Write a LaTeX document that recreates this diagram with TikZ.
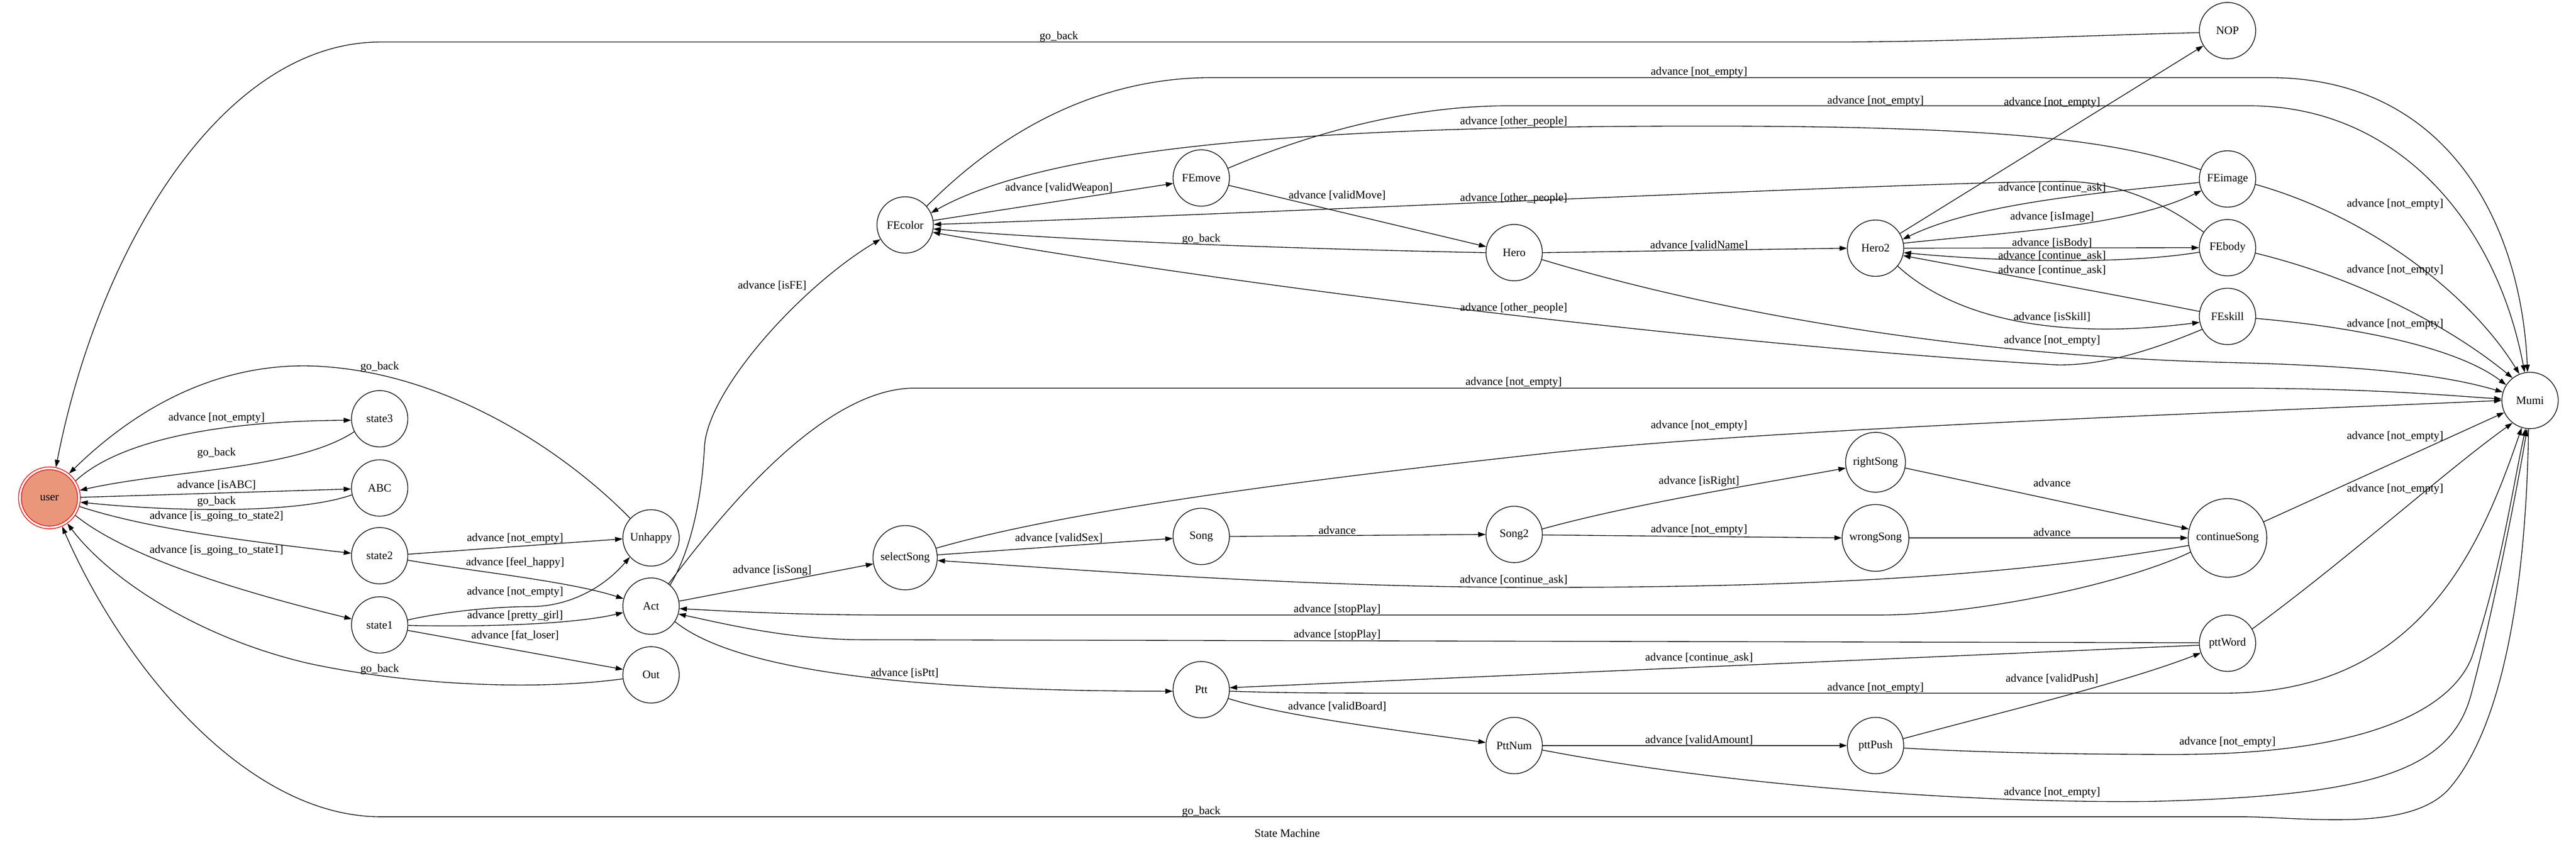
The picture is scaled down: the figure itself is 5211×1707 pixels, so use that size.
\documentclass[tikz,border=0pt]{standalone}
\usepackage{fontspec}
\setmainfont{Liberation Serif}
\usetikzlibrary{arrows.meta}
\definecolor{dsalmon}{RGB}{233,150,122}
\begin{document}
\begin{tikzpicture}[x=1pt,y=-1pt,font=\fontsize{23}{27}\selectfont,
  st/.style={circle,draw,line width=1.4pt,minimum size=114pt,inner sep=0pt},
  edge/.style={line width=1.4pt,-{Triangle[length=15pt,width=10pt]}},
  lbl/.style={inner sep=0pt}]
\useasboundingbox (0,0) rectangle (5211,1707);
% nodes
\node[circle,draw=red,line width=1.4pt,minimum size=125pt,inner sep=0pt,
  path picture={\draw[red,line width=1.4pt,fill=dsalmon] (path picture bounding box.center) circle[radius=57pt];}] (user) at (100,1007) {user};
\node[st] (state3) at (768,847) {state3};
\node[st] (ABC) at (768,987) {ABC};
\node[st] (state2) at (768,1124) {state2};
\node[st] (state1) at (768,1264) {state1};
\node[st] (Unhappy) at (1317,1088) {Unhappy};
\node[st] (Act) at (1317,1226) {Act};
\node[st] (Out) at (1317,1365) {Out};
\node[st] (FEcolor) at (1831,455) {FEcolor};
\node[st,minimum size=130pt] (selectSong) at (1831,1128) {selectSong};
\node[st] (FEmove) at (2430,360) {FEmove};
\node[st] (Song) at (2430,1085) {Song};
\node[st] (Ptt) at (2430,1395) {Ptt};
\node[st] (Hero) at (3063,511) {Hero};
\node[st] (Song2) at (3063,1081) {Song2};
\node[st] (PttNum) at (3063,1508) {PttNum};
\node[st] (Hero2) at (3794,502) {Hero2};
\node[st,minimum size=121pt] (rightSong) at (3794,935) {rightSong};
\node[st,minimum size=135pt] (wrongSong) at (3794,1088) {wrongSong};
\node[st] (pttPush) at (3794,1508) {pttPush};
\node[st] (NOP) at (4506,62) {NOP};
\node[st] (FEimage) at (4506,362) {FEimage};
\node[st] (FEbody) at (4506,501) {FEbody};
\node[st] (FEskill) at (4506,640) {FEskill};
\node[st,minimum size=159pt] (continueSong) at (4506,1088) {continueSong};
\node[st] (pttWord) at (4506,1301) {pttWord};
\node[st] (Mumi) at (5118,810) {Mumi};
% user edges
\draw[edge] (user.33) .. controls (220,910) and (380,852) .. (state3.183);
\draw[edge] (state3.207) .. controls (600,950) and (350,950) .. (user.14);
\draw[edge] (user.1) -- (ABC.182);
\draw[edge] (ABC.194) .. controls (600,1040) and (350,1035) .. (user.352);
\draw[edge] (user.344) .. controls (300,1070) and (500,1095) .. (state2.175);
\draw[edge] (user.326) .. controls (260,1130) and (500,1200) .. (state1.168);
\draw[edge] (Unhappy.137) .. controls (1150,920) and (900,745) .. (620,740) .. controls (400,738) and (240,860) .. (user.51);
\draw[edge] (Out.188) .. controls (1100,1395) and (850,1390) .. (625,1342) .. controls (400,1290) and (220,1170) .. (user.305);
\draw[edge] (Mumi.267) .. controls (5110,1200) and (5060,1480) .. (4950,1600) .. controls (4870,1680) and (4680,1655) .. (4544,1652) -- (770,1652) .. controls (500,1652) and (250,1350) .. (user.294);
\draw[edge] (NOP.184) .. controls (4200,72) and (3950,85) .. (3700,85) -- (770,85) .. controls (450,85) and (200,500) .. (user.78);
% state1/state2
\draw[edge] (state2.3) -- (Unhappy.182);
\draw[edge] (state2.351) .. controls (950,1155) and (1150,1175) .. (Act.165);
\draw[edge] (state1.10) .. controls (900,1237) and (1000,1227) .. (1072,1227) .. controls (1150,1227) and (1220,1190) .. (Unhappy.222);
\draw[edge] (state1.359) .. controls (950,1268) and (1150,1265) .. (Act.193);
\draw[edge] (state1.349) -- (Out.169);
% Act
\draw[edge] (Act.48) .. controls (1400,1110) and (1420,1000) .. (1425,905) .. controls (1430,790) and (1620,580) .. (FEcolor.210);
\draw[edge] (Act.52) .. controls (1430,1080) and (1650,785) .. (1850,785) -- (4500,785) .. controls (4800,785) and (4950,800) .. (Mumi.177);
\draw[edge] (Act.10) -- (selectSong.191);
\draw[edge] (Act.327) .. controls (1480,1350) and (1800,1398) .. (Ptt.183);
\draw[edge] (continueSong.201) .. controls (4300,1180) and (4000,1244) .. (3800,1244) -- (1800,1244) .. controls (1600,1244) and (1450,1235) .. (Act.355);
\draw[edge] (pttWord.179) -- (1750,1294) .. controls (1600,1294) and (1480,1265) .. (Act.344);
% FE group
\draw[edge] (FEcolor.9) -- (FEmove.191);
\draw[edge] (FEimage.161) .. controls (4300,290) and (4100,255) .. (3450,255) .. controls (2800,255) and (2150,280) .. (FEcolor.25);
\draw[edge] (FEmove.20) .. controls (2650,270) and (2850,214) .. (3050,214) -- (4550,214) .. controls (4850,214) and (5050,450) .. (Mumi.101);
\draw[edge] (FEcolor.41) .. controls (2050,240) and (2250,157) .. (2450,157) -- (4590,157) .. controls (4950,157) and (5100,450) .. (Mumi.95);
\draw[edge] (FEmove.345) -- (Hero.168);
\draw[edge] (Hero.180) .. controls (2700,505) and (2200,490) .. (FEcolor.352);
\draw[edge] (FEbody.147) .. controls (4380,410) and (4280,367) .. (4176,367) .. controls (3900,367) and (2600,430) .. (FEcolor.1);
\draw[edge] (FEskill.207) .. controls (4350,710) and (4250,740) .. (4160,738) .. controls (3500,700) and (2500,580) .. (FEcolor.345);
\draw[edge] (Hero.0) -- (Hero2.180);
\draw[edge] (Hero.346) .. controls (3500,640) and (4000,720) .. (4500,733) .. controls (4800,740) and (4950,760) .. (Mumi.163);
\draw[edge] (Hero2.31) -- (NOP.212);
\draw[edge] (Hero2.10) .. controls (4050,470) and (4300,460) .. (FEimage.204);
\draw[edge] (FEimage.187) .. controls (4250,390) and (4000,410) .. (Hero2.18);
\draw[edge] (Hero2.0) -- (FEbody.180);
\draw[edge] (FEbody.189) .. controls (4300,535) and (4050,530) .. (Hero2.351);
\draw[edge] (FEskill.170) .. controls (4300,600) and (4000,545) .. (Hero2.345);
\draw[edge] (Hero2.321) .. controls (3950,640) and (4150,690) .. (FEskill.192);
\draw[edge] (FEimage.349) .. controls (4800,440) and (5000,600) .. (Mumi.112);
\draw[edge] (FEbody.349) .. controls (4800,570) and (4980,680) .. (Mumi.128);
\draw[edge] (FEskill.356) .. controls (4800,665) and (4980,710) .. (Mumi.147);
% Song group
\draw[edge] (selectSong.5) -- (Song.184);
\draw[edge] (Song.0) -- (Song2.180);
\draw[edge] (continueSong.191) .. controls (4100,1160) and (3700,1190) .. (3062,1188) .. controls (2600,1186) and (2150,1150) .. (selectSong.355);
\draw[edge] (Song2.11) .. controls (3300,1020) and (3550,980) .. (rightSong.191);
\draw[edge] (Song2.359) -- (wrongSong.180);
\draw[edge] (rightSong.349) -- (continueSong.167);
\draw[edge] (wrongSong.0) -- (continueSong.180);
\draw[edge] (continueSong.24) -- (Mumi.205);
\draw[edge] (selectSong.17) .. controls (2150,1035) and (2600,975) .. (3100,920) .. controls (3550,868) and (4500,835) .. (Mumi.180);
% Ptt group
\draw[edge] (Ptt.342) .. controls (2600,1450) and (2850,1480) .. (PttNum.174);
\draw[edge] (Ptt.357) .. controls (2600,1402) and (2700,1402) .. (2900,1402) -- (4500,1402) .. controls (4900,1402) and (5020,1100) .. (Mumi.253);
\draw[edge] (pttWord.184) -- (Ptt.4);
\draw[edge] (PttNum.0) -- (pttPush.180);
\draw[edge] (PttNum.351) .. controls (3500,1590) and (4000,1625) .. (4350,1621) .. controls (4800,1610) and (4960,1560) .. (5000,1400) .. controls (5040,1250) and (5090,1000) .. (Mumi.264);
\draw[edge] (pttPush.14) .. controls (4050,1440) and (4300,1380) .. (pttWord.200);
\draw[edge] (pttPush.355) .. controls (4000,1522) and (4200,1526) .. (4400,1526) .. controls (4800,1526) and (4960,1430) .. (5000,1330) .. controls (5060,1150) and (5080,1000) .. (Mumi.261);
\draw[edge] (pttWord.30) .. controls (4750,1130) and (4950,950) .. (Mumi.232);
% labels
\node[lbl] (l1) at (438,845) {advance [not\_empty]};
\node[lbl] (l2) at (438,916) {go\_back};
\node[lbl] (l3) at (438,981) {advance [isABC]};
\node[lbl] (l4) at (438,1014) {go\_back};
\node[lbl] (l5) at (438,1045) {advance [is\_going\_to\_state2]};
\node[lbl] (l6) at (438,1113) {advance [is\_going\_to\_state1]};
\node[lbl] (l7) at (768,742) {go\_back};
\node[lbl] (l8) at (768,1354) {go\_back};
\node[lbl] (l9) at (2430,1642) {go\_back};
\node[lbl] (l10) at (2142,74) {go\_back};
\node[lbl] (l11) at (1042,1089) {advance [not\_empty]};
\node[lbl] (l12) at (1042,1138) {advance [feel\_happy]};
\node[lbl] (l13) at (1042,1198) {advance [not\_empty]};
\node[lbl] (l14) at (1042,1246) {advance [pretty\_girl]};
\node[lbl] (l15) at (1042,1285) {advance [fat\_loser]};
\node[lbl] (l16) at (1562,578) {advance [isFE]};
\node[lbl] (l17) at (3062,774) {advance [not\_empty]};
\node[lbl] (l18) at (1562,1154) {advance [isSong]};
\node[lbl] (l19) at (1830,1361) {advance [isPtt]};
\node[lbl] (l20) at (2705,1233) {advance [stopPlay]};
\node[lbl] (l21) at (2705,1284) {advance [stopPlay]};
\node[lbl] (l22) at (2142,381) {advance [validWeapon]};
\node[lbl] (l23) at (3062,246) {advance [other\_people]};
\node[lbl] (l24) at (3794,204) {advance [not\_empty]};
\node[lbl] (l25) at (3437,146) {advance [not\_empty]};
\node[lbl] (l26) at (2705,395) {advance [validMove]};
\node[lbl] (l27) at (2430,484) {go\_back};
\node[lbl] (l28) at (3062,401) {advance [other\_people]};
\node[lbl] (l29) at (3062,623) {advance [other\_people]};
\node[lbl] (l30) at (3437,496) {advance [validName]};
\node[lbl] (l31) at (4151,689) {advance [not\_empty]};
\node[lbl] (l32) at (4151,208) {advance [not\_empty]};
\node[lbl] (l33) at (4151,439) {advance [isImage]};
\node[lbl] (l34) at (4151,380) {advance [continue\_ask]};
\node[lbl] (l35) at (4151,492) {advance [isBody]};
\node[lbl] (l36) at (4151,517) {advance [continue\_ask]};
\node[lbl] (l37) at (4151,546) {advance [continue\_ask]};
\node[lbl] (l38) at (4151,641) {advance [isSkill]};
\node[lbl] (l39) at (4845,413) {advance [not\_empty]};
\node[lbl] (l40) at (4845,546) {advance [not\_empty]};
\node[lbl] (l41) at (4845,656) {advance [not\_empty]};
\node[lbl] (l42) at (2142,1088) {advance [validSex]};
\node[lbl] (l43) at (2705,1072) {advance};
\node[lbl] (l44) at (3062,1173) {advance [continue\_ask]};
\node[lbl] (l45) at (3437,974) {advance [isRight]};
\node[lbl] (l46) at (3437,1072) {advance [not\_empty]};
\node[lbl] (l47) at (4151,977) {advance};
\node[lbl] (l48) at (4151,1077) {advance};
\node[lbl] (l49) at (4845,883) {advance [not\_empty]};
\node[lbl] (l50) at (3437,861) {advance [not\_empty]};
\node[lbl] (l51) at (2705,1429) {advance [validBoard]};
\node[lbl] (l52) at (3794,1392) {advance [not\_empty]};
\node[lbl] (l53) at (3437,1330) {advance [continue\_ask]};
\node[lbl] (l54) at (3437,1497) {advance [validAmount]};
\node[lbl] (l55) at (4151,1603) {advance [not\_empty]};
\node[lbl] (l56) at (4151,1373) {advance [validPush]};
\node[lbl] (l57) at (4506,1501) {advance [not\_empty]};
\node[lbl] (l58) at (4845,989) {advance [not\_empty]};
\node[lbl] (title) at (2604,1685) {State Machine};
\end{tikzpicture}
\end{document}
